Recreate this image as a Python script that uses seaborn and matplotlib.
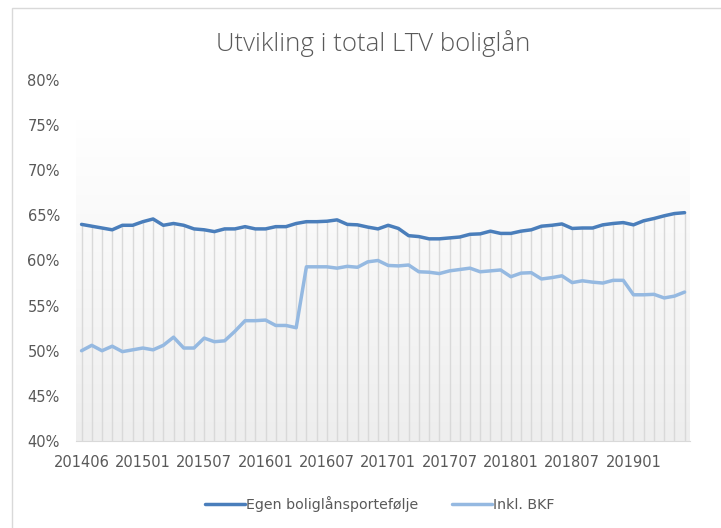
import numpy as np
import pandas as pd
import seaborn as sns
import matplotlib
matplotlib.use("Agg")
from matplotlib import pyplot as plt
from matplotlib.colors import LinearSegmentedColormap
from matplotlib.patches import Rectangle

# categories (one month is missing in 2014)
periods = ['201406', '201408', '201409', '201410', '201411', '201412',
           '201501', '201502', '201503', '201504', '201505', '201506',
           '201507', '201508', '201509', '201510', '201511', '201512',
           '201601', '201602', '201603', '201604', '201605', '201606',
           '201607', '201608', '201609', '201610', '201611', '201612',
           '201701', '201702', '201703', '201704', '201705', '201706',
           '201707', '201708', '201709', '201710', '201711', '201712',
           '201801', '201802', '201803', '201804', '201805', '201806',
           '201807', '201808', '201809', '201810', '201811', '201812',
           '201901', '201902', '201903', '201904', '201905', '201906']

# LTV in percent
egen = [64.0, 63.8, 63.6, 63.4, 63.9, 63.9, 64.3, 64.6, 63.9, 64.1, 63.9, 63.5, 63.4, 63.2, 63.5,
        63.5, 63.75, 63.5, 63.5, 63.75, 63.75, 64.1, 64.3, 64.3, 64.35, 64.5, 64.0, 63.95, 63.7, 63.5,
        63.9, 63.55, 62.75, 62.65, 62.4, 62.4, 62.5, 62.6, 62.9, 62.95, 63.25, 63.0, 63.0, 63.25, 63.4,
        63.8, 63.9, 64.05, 63.55, 63.6, 63.6, 63.95, 64.1, 64.2, 63.95, 64.4, 64.65, 64.95, 65.2, 65.3]
inkl = [50.0, 50.6, 50.0, 50.5, 49.9, 50.1, 50.3, 50.1, 50.6, 51.5, 50.3, 50.3, 51.4, 51.0, 51.1,
        52.15, 53.33, 53.33, 53.4, 52.8, 52.8, 52.55, 59.3, 59.3, 59.3, 59.15, 59.35, 59.25, 59.85, 60.0,
        59.45, 59.4, 59.5, 58.75, 58.7, 58.55, 58.85, 59.0, 59.15, 58.75, 58.85, 58.95, 58.2, 58.6, 58.65,
        57.95, 58.1, 58.3, 57.55, 57.75, 57.6, 57.5, 57.8, 57.8, 56.2, 56.2, 56.25, 55.85, 56.05, 56.5]

series_names = ['Egen boliglånsportefølje', 'Inkl. BKF']
y_ticks = [40, 45, 50, 55, 60, 65, 70, 75, 80]

sns.set_style("white")
plt.rcParams['font.family'] = ['DejaVu Sans']
txt = '#595959'

pos = np.arange(len(periods))
df = pd.DataFrame({
    'pos': np.concatenate([pos, pos]),
    'value': egen + inkl,
    'series': [series_names[0]] * len(egen) + [series_names[1]] * len(inkl),
})

fig = plt.figure(figsize=(7.21, 5.28), dpi=100)
ax = fig.add_axes([0.106, 0.1648, 0.8506, 0.6837])

# chart border
fig.patches.append(Rectangle((12 / 721, -0.02), 1.0, 1 - 8 / 528 + 0.02, transform=fig.transFigure,
                             fill=False, edgecolor='#d9d9d9', lw=1))

# plot area gradient
cmap = LinearSegmentedColormap.from_list('bg', ['#ffffff', '#eeeeee'])
grad = np.linspace(0, 1, 256).reshape(-1, 1)
ax.imshow(grad, extent=(-0.5, len(periods) - 0.5, 40, 75.6), origin='upper',
          aspect='auto', cmap=cmap, zorder=0)

# drop lines
ax.vlines(pos, 40, egen, color='#d9d9d9', lw=1, zorder=1)

sns.lineplot(data=df, x='pos', y='value', hue='series',
             palette=['#4a7ebb', '#95b9e1'], lw=2.5, ax=ax, legend=False, zorder=3)

ax.set_xlim(-0.5, len(periods) - 0.5)
ax.set_ylim(40, 80)
ax.set_yticks(y_ticks)
ax.set_yticklabels([f'{t}%' for t in y_ticks])
ax.set_xticks(pos[::6])
ax.set_xticklabels(periods[::6])
ax.set_xlabel('')
ax.set_ylabel('')
ax.tick_params(axis='y', length=0, pad=12, labelsize=10.5, labelcolor=txt)
ax.tick_params(axis='x', length=0, pad=10, labelsize=10.5, labelcolor=txt)
for s in ['top', 'right', 'left']:
    ax.spines[s].set_visible(False)
ax.spines['bottom'].set_color('#d9d9d9')
ax.patch.set_alpha(0)

fig.text(0.518, 0.918, 'Utvikling i total LTV boliglån', ha='center', va='center',
         fontsize=18.5, color=txt, family=['Open Sans', 'DejaVu Sans'], fontweight='light')

handles = [plt.Line2D([], [], color='#4a7ebb', lw=2.5),
           plt.Line2D([], [], color='#95b9e1', lw=2.5)]
fig.legend(handles, series_names, loc='center', bbox_to_anchor=(0.527, 0.046), ncol=2,
           frameon=False, fontsize=10.2, labelcolor=txt, handlelength=2.8,
           handletextpad=0.1, columnspacing=2.4)

fig.savefig('out.png', dpi=100)
